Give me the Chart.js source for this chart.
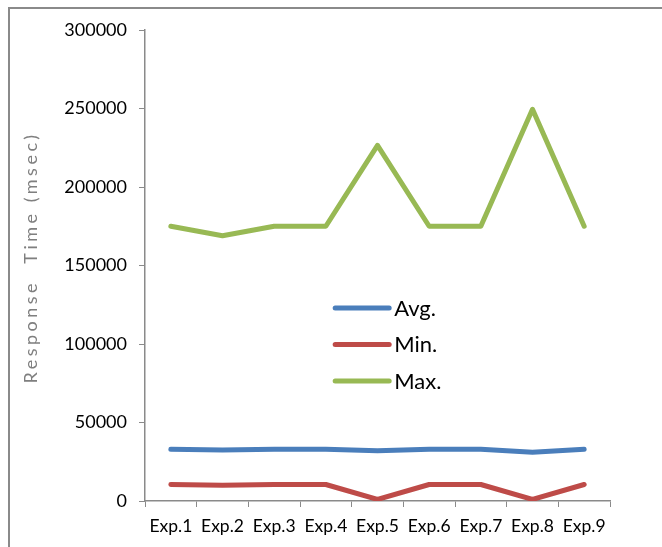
<!DOCTYPE html>
<html>
<head>
<meta charset="utf-8">
<script src="https://cdn.jsdelivr.net/npm/chart.js@4.4.0/dist/chart.umd.min.js"></script>
<style>
  html, body { margin: 0; padding: 0; background: #fff; overflow: hidden; }
  #frame { position: absolute; left: 8px; top: 7px; width: 700px; height: 600px; border: 2px solid #8a8a8a; box-sizing: border-box; }
  #wrap { position: absolute; left: 0; top: 0; width: 662px; height: 547px; }
</style>
</head>
<body>
<div id="frame"></div>
<div id="wrap"><canvas id="c" width="662" height="547"></canvas></div>
<script>
const categories = ["Exp.1", "Exp.2", "Exp.3", "Exp.4", "Exp.5", "Exp.6", "Exp.7", "Exp.8", "Exp.9"];
const avgValues = [33000, 32500, 33000, 33000, 32000, 33000, 33000, 31000, 33000];
const minValues = [10500, 10000, 10500, 10500, 1000, 10500, 10500, 1000, 10500];
const maxValues = [175000, 169000, 175000, 175000, 226500, 175000, 175000, 249500, 175000];
const seriesNames = ["Avg.", "Min.", "Max."];
const seriesColors = ["#4a7ebb", "#be4b48", "#98b954"];
const yTitle = "Response  Time (msec)";

const FONT = "Lato, 'Open Sans', sans-serif";

const legendPlugin = {
  id: 'midLegend',
  afterDatasetsDraw(chart) {
    const ctx = chart.ctx;
    const a = chart.chartArea;
    const x0 = a.left + (a.right - a.left) * 0.409;
    const lineLen = 54;
    const y0 = a.top + (a.bottom - a.top) * 0.59;
    const gap = 36.5;
    ctx.save();
    chart.data.datasets.forEach((ds, i) => {
      const y = y0 + i * gap;
      ctx.strokeStyle = ds.borderColor;
      ctx.lineWidth = 5;
      ctx.lineCap = 'round';
      ctx.beginPath();
      ctx.moveTo(x0, y);
      ctx.lineTo(x0 + lineLen, y);
      ctx.stroke();
      ctx.fillStyle = '#000';
      ctx.font = "22px " + FONT;
      ctx.textBaseline = 'middle';
      ctx.textAlign = 'left';
      ctx.fillText(ds.label, x0 + lineLen + 5, y + 1);
    });
    ctx.restore();
  }
};

const titlePlugin = {
  id: 'yTitle',
  afterDraw(chart) {
    const ctx = chart.ctx;
    const a = chart.chartArea;
    ctx.save();
    ctx.translate(31, (a.top + a.bottom) / 2 - 8);
    ctx.rotate(-Math.PI / 2);
    ctx.fillStyle = '#7f7f7f';
    ctx.font = "18px " + FONT;
    if ('letterSpacing' in ctx) ctx.letterSpacing = '3.5px';
    ctx.textAlign = 'center';
    ctx.textBaseline = 'middle';
    ctx.fillText(yTitle, 0, 0);
    ctx.restore();
  }
};

new Chart(document.getElementById('c'), {
  type: 'line',
  data: {
    labels: categories,
    datasets: [
      { label: seriesNames[0], data: avgValues, borderColor: seriesColors[0], backgroundColor: seriesColors[0] },
      { label: seriesNames[1], data: minValues, borderColor: seriesColors[1], backgroundColor: seriesColors[1] },
      { label: seriesNames[2], data: maxValues, borderColor: seriesColors[2], backgroundColor: seriesColors[2] }
    ].map(d => Object.assign(d, { borderWidth: 5, pointRadius: 0, tension: 0, fill: false, borderCapStyle: 'round', borderJoinStyle: 'round' }))
  },
  options: {
    responsive: false,
    animation: false,
    events: [],
    layout: { padding: { top: 30, right: 52, left: 0, bottom: 0 } },
    plugins: { legend: { display: false }, tooltip: { enabled: false }, title: { display: false } },
    scales: {
      x: {
        type: 'category',
        offset: true,
        grid: { drawOnChartArea: false, drawTicks: true, tickLength: 6, color: '#8a8a8a', offset: true },
        border: { color: '#8a8a8a', width: 1.5 },
        ticks: { color: '#000', font: { family: FONT, size: 17.5 }, maxRotation: 0, autoSkip: false, padding: 9 },
        afterFit(s) { s.height = 46; }
      },
      y: {
        min: 0, max: 300000,
        grid: { drawOnChartArea: false, drawTicks: true, tickLength: 6, color: '#8a8a8a' },
        border: { color: '#8a8a8a', width: 1.5 },
        ticks: { stepSize: 50000, color: '#000', font: { family: FONT, size: 18 }, padding: 12, callback: v => String(v) },
        afterFit(s) { s.width = 145; }
      }
    }
  },
  plugins: [legendPlugin, titlePlugin]
});
</script>
</body>
</html>
